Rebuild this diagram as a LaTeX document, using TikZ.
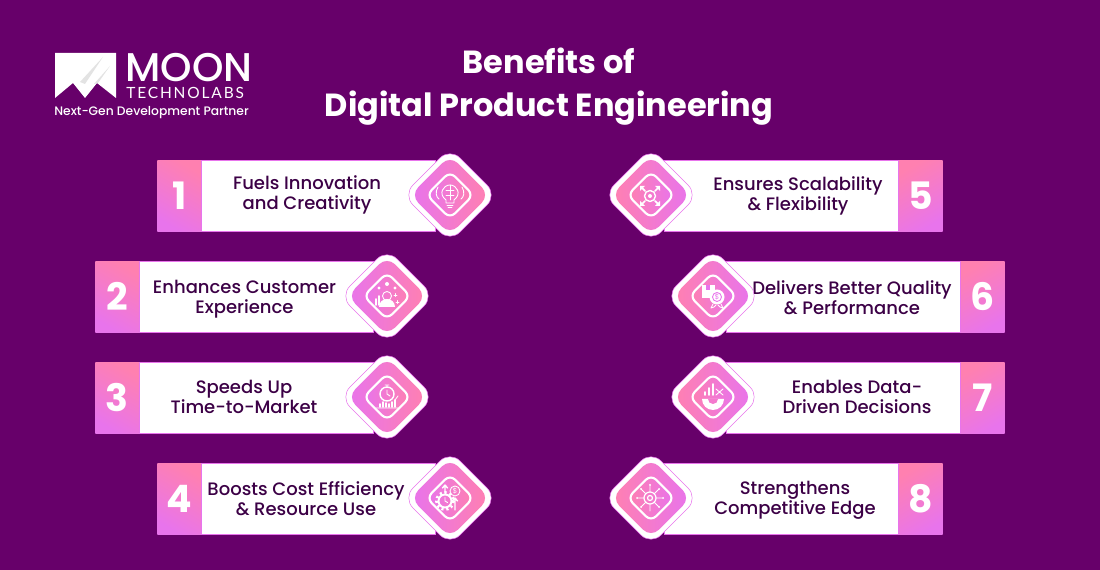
\documentclass[tikz,border=0pt]{standalone}
\usepackage{fontspec}
\setmainfont{Poppins}
\newfontfamily\medfont{Poppins Medium}
\newfontfamily\logofont[LetterSpace=12]{Lato}
\definecolor{bgpurple}{RGB}{103, 0, 106}
\definecolor{pinkhi}{RGB}{255, 128, 176}
\definecolor{violethi}{RGB}{232, 116, 236}
\definecolor{inkdark}{RGB}{60, 0, 70}
\usetikzlibrary{positioning, calc}
\tikzset{
  numbox/.style={minimum width=0.88cm, minimum height=1.42cm, inner sep=0pt, shade, top color=pinkhi, bottom color=violethi, shading angle=-30, text=white, font=\bfseries\fontsize{21.5}{21}\selectfont},
  numboxright/.style={numbox, shading angle=30},
  bar/.style={draw=violethi, line width=0.4pt, fill=white, minimum height=1.42cm, inner sep=0pt},
  itemtext/.style={text=inkdark, font=\medfont\fontsize{10.25}{11.4}\selectfont, align=center},
  outerdia/.style={draw=violethi, line width=0.3pt, fill=white, rotate=45, rounded corners=0.28cm, minimum size=1.33cm, inner sep=0pt},
  middia/.style={rotate=45, rounded corners=0.22cm, minimum size=1.12cm, inner sep=0pt},
  innerdia/.style={draw=white, line width=1.2pt, rotate=45, rounded corners=0.14cm, minimum size=0.66cm, inner sep=0pt},
  icon/.style={draw=white, line width=0.5pt, line cap=round, line join=round},
}
\begin{document}
\begin{tikzpicture}[x=0.02cm, y=-0.02cm]
  % background
  \fill[bgpurple] (0, 0) rectangle (1100, 570);
  \useasboundingbox (0, 0) rectangle (1100, 570);

  % Logo
  \fill[white] (55, 53) -- (116, 53) -- (116, 98) -- (97, 83) -- (85, 98) -- (73, 83) -- (55, 98) -- cycle;
  \fill[gray!22] (103, 57) -- (80, 82) -- (85, 84) -- cycle;
  \fill[gray!22] (110, 66) -- (94, 84) -- (98, 83) -- cycle;
  \node[text=white, font=\medfont\fontsize{22.8}{23}\selectfont, anchor=west, inner sep=0pt] (moon) at (125, 68) {MOON};
  \node[text=white, font=\logofont\fontsize{8.8}{9}\selectfont, anchor=west, inner sep=0pt] (labs) at (126, 93) {TECHNOLABS};
  \node[text=white, font=\medfont\fontsize{7}{8}\selectfont, anchor=west, inner sep=0pt] (tagline) at (54, 113) {Next-Gen Development Partner};

  % Title
  \node[text=white, font=\bfseries\fontsize{18.2}{24.4}\selectfont, align=center] (title) at (549, 87) {Benefits of\\Digital Product Engineering};

  % Left column
  \node[numbox, anchor=north west] (num1) at (157, 160) {1};
  \node[bar, anchor=north west, minimum width=4.68cm] (bar1) at (201, 160) {};
  \node[itemtext] (txt1) at (307, 195) {Fuels Innovation\\and Creativity};
  \node[outerdia] (dia1) at (450, 195) {};
  \node[middia, shade, left color=violethi, right color=pinkhi] (mid1) at (dia1) {};
  \node[innerdia, shade, left color=violethi, right color=pinkhi] (in1) at (dia1) {};
  % bulb
  \begin{scope}[shift={(dia1.center)}]
    \draw[icon] (-4, 5) .. controls (-12, -1) and (-7, -10) .. (0, -10) .. controls (7, -10) and (12, -1) .. (4, 5) -- (4, 8) -- (-4, 8) -- cycle;
    \draw[icon] (0, -10) -- (0, 5) (-3, 10) -- (3, 10) (-2, 12) -- (2, 12);
    \draw[icon] (0, -5) -- (-4, -5) (0, 0) -- (-4, 0) (0, -5) -- (4, -5) (0, 0) -- (4, 0);
    \draw[icon] (-12, -8) .. controls (-15, -3) and (-14, 2) .. (-11, 4);
    \draw[icon] (12, -8) .. controls (15, -3) and (14, 2) .. (11, 4);
  \end{scope}

  \node[numbox, anchor=north west] (num2) at (95, 261) {2};
  \node[bar, anchor=north west, minimum width=4.68cm] (bar2) at (139, 261) {};
  \node[itemtext] (txt2) at (244.5, 299) {Enhances Customer\\Experience};
  \node[outerdia] (dia2) at (387, 296) {};
  \node[middia, shade, left color=violethi, right color=pinkhi] (mid2) at (dia2) {};
  \node[innerdia, shade, left color=violethi, right color=pinkhi] (in2) at (dia2) {};
  % customer
  \begin{scope}[shift={(dia2.center)}]
    \fill[white] (-8, 11) arc[start angle=180, end angle=360, x radius=8, y radius=8] -- cycle;
    \draw[icon] (0, 0) circle (4.5);
    \fill[white] (0, -12) circle (2) (-8, -8) circle (1.6) (8, -8) circle (1.6);
    \draw[icon, line width=1pt] (-11, 9) -- (-11, 3) (-8, 9) -- (-8, 0);
    \draw[icon] (7, -1) -- (10, -1) (8.5, -2.5) -- (8.5, 0.5) (9, 6) -- (12, 6) (10.5, 4.5) -- (10.5, 7.5);
  \end{scope}

  \node[numbox, anchor=north west] (num3) at (95, 362) {3};
  \node[bar, anchor=north west, minimum width=4.68cm] (bar3) at (139, 362) {};
  \node[itemtext] (txt3) at (244, 397) {Speeds Up\\Time-to-Market};
  \node[outerdia] (dia3) at (387, 397) {};
  \node[middia, shade, left color=violethi, right color=pinkhi] (mid3) at (dia3) {};
  \node[innerdia, shade, left color=violethi, right color=pinkhi] (in3) at (dia3) {};
  % stopwatch
  \begin{scope}[shift={(dia3.center)}]
    \draw[icon, line width=0.8pt] (0, -3) circle (7);
    \draw[icon] (0, -3) -- (0, -7) (0, -3) -- (3, -1) (-2, -12) -- (2, -12) (0, -12) -- (0, -10);
    \draw[icon, line width=1pt] (-7, 10) -- (-7, 7) (-4, 10) -- (-4, 5) (-1, 10) -- (-1, 6) (2, 10) -- (2, 7) (5, 10) -- (5, 5) (8, 10) -- (8, 3);
    \draw[icon] (-11, 11) -- (11, 11) (8, 3) -- (11, -1);
  \end{scope}

  \node[numbox, anchor=north west] (num4) at (157, 463) {4};
  \node[bar, anchor=north west, minimum width=4.68cm] (bar4) at (201, 463) {};
  \node[itemtext] (txt4) at (306, 499) {Boosts Cost Efficiency\\\& Resource Use};
  \node[outerdia] (dia4) at (450, 498) {};
  \node[middia, shade, left color=violethi, right color=pinkhi] (mid4) at (dia4) {};
  \node[innerdia, shade, left color=violethi, right color=pinkhi] (in4) at (dia4) {};
  % cost
  \begin{scope}[shift={(dia4.center)}]
    \draw[icon, line width=1.1pt] (-5, 3) circle (6.5);
    \draw[icon, line width=1.6pt, dash pattern=on 1.2pt off 1.6pt, line cap=butt] (-5, 3) circle (8.5);
    \draw[icon] (-5, 3) -- (-5, -0.5) (-5, 3) -- (-2.5, 4.5);
    \draw[icon] (5, -7) circle (5);
    \node[text=white, font=\fontsize{4}{4}\selectfont, inner sep=0pt] (coin) at (5, -7) {\$};
    \draw[icon, line width=0.8pt] (-5, -5) -- (-5, -13) (-7.5, -10) -- (-5, -13) -- (-2.5, -10);
    \draw[icon, line width=0.8pt] (5, 12) -- (5, 0) (2.5, 3) -- (5, 0) -- (7.5, 3);
  \end{scope}

  % Right column
  \node[numboxright, anchor=north east] (num5) at (943, 160) {5};
  \node[bar, anchor=north east, minimum width=4.68cm] (bar5) at (899, 160) {};
  \node[itemtext] (txt5) at (798, 196) {Ensures Scalability\\\& Flexibility};
  \node[outerdia] (dia5) at (651, 195) {};
  \node[middia, shade, left color=pinkhi, right color=violethi] (mid5) at (dia5) {};
  \node[innerdia, shade, left color=pinkhi, right color=violethi] (in5) at (dia5) {};
  % scale
  \begin{scope}[shift={(dia5.center)}]
    \draw[icon, line width=0.8pt] (-1, 1) circle (5.5);
    \fill[white] (-1, 1) circle (2);
    \draw[icon, line width=1pt] (-6, -4) -- (-10, -8) (4, -4) -- (8, -8) (-6, 6) -- (-10, 10) (4, 6) -- (8, 10);
    \fill[white] (-11, -9) -- (-6, -9) -- (-11, -4) -- cycle (9, -9) -- (4, -9) -- (9, -4) -- cycle (-11, 11) -- (-6, 11) -- (-11, 6) -- cycle (9, 11) -- (4, 11) -- (9, 6) -- cycle;
  \end{scope}

  \node[numboxright, anchor=north east] (num6) at (1005, 261) {6};
  \node[bar, anchor=north east, minimum width=4.68cm] (bar6) at (961, 261) {};
  \node[itemtext] (txt6) at (852, 298) {Delivers Better Quality\\\& Performance};
  \node[outerdia] (dia6) at (713, 296) {};
  \node[middia, shade, left color=pinkhi, right color=violethi] (mid6) at (dia6) {};
  \node[innerdia, shade, left color=pinkhi, right color=violethi] (in6) at (dia6) {};
  % quality
  \begin{scope}[shift={(dia6.center)}]
    \fill[white] (-11, -11) rectangle (2, 2);
    \fill[violethi] (-7, -11) rectangle (-3, -6);
    \fill[white] (4, 1) circle (7.5);
    \draw[violethi, line width=0.5pt] (4, 1) circle (4.5);
    \node[text=violethi, font=\fontsize{4}{4}\selectfont, inner sep=0pt] (badge) at (4, 1) {\$};
    \draw[icon] (0, 8) -- (-2, 12) -- (1, 11) -- (3, 9) (8, 8) -- (10, 12) -- (7, 11) -- (5, 9);
  \end{scope}

  \node[numboxright, anchor=north east] (num7) at (1005, 362) {7};
  \node[bar, anchor=north east, minimum width=4.68cm] (bar7) at (961, 362) {};
  \node[itemtext] (txt7) at (857, 397) {Enables Data-\\Driven Decisions};
  \node[outerdia] (dia7) at (713, 397) {};
  \node[middia, shade, left color=pinkhi, right color=violethi] (mid7) at (dia7) {};
  \node[innerdia, shade, left color=pinkhi, right color=violethi] (in7) at (dia7) {};
  % data
  \begin{scope}[shift={(dia7.center)}]
    \draw[icon, line width=1.1pt] (-8, -2) -- (-8, -5) (-4, -2) -- (-4, -9) (0, -2) -- (0, -13);
    \draw[icon] (3, -8) -- (10, -2) (3, -2) -- (10, -8);
    \fill[white] (-11, 2) -- (11, 2) arc[start angle=0, end angle=180, radius=11] -- cycle;
    \fill[pinkhi!50!violethi] (-5, 2) arc[start angle=180, end angle=0, radius=5] -- cycle;
  \end{scope}

  \node[numboxright, anchor=north east] (num8) at (943, 463) {8};
  \node[bar, anchor=north east, minimum width=4.68cm] (bar8) at (899, 463) {};
  \node[itemtext] (txt8) at (795, 500) {Strengthens\\Competitive Edge};
  \node[outerdia] (dia8) at (651, 498) {};
  \node[middia, shade, left color=pinkhi, right color=violethi] (mid8) at (dia8) {};
  \node[innerdia, shade, left color=pinkhi, right color=violethi] (in8) at (dia8) {};
  % target
  \begin{scope}[shift={(dia8.center)}]
    \draw[icon, line width=0.7pt] (-1, 0) circle (6);
    \draw[icon, line width=0.7pt] (-1, 0) circle (2.5);
    \draw[icon] (-1, -6) -- (-1, -13) (-1, 6) -- (-1, 13) (-7, 0) -- (-14, 0) (5, 0) -- (12, 0) (-5, -4) -- (-10, -9) (3, -4) -- (8, -9) (-5, 4) -- (-10, 9) (3, 4) -- (8, 9);
    \fill[white] (-1, -13) circle (1) (-14, 0) circle (1) (12, 0) circle (1) (-10, -9) circle (1) (8, -9) circle (1) (-10, 9) circle (1) (8, 9) circle (1);
  \end{scope}
\end{tikzpicture}
\end{document}
